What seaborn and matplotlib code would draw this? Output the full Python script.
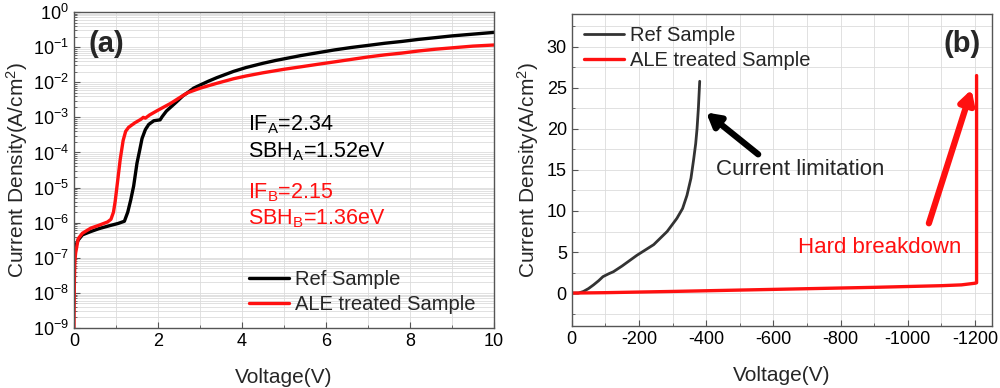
import numpy as np
import pandas as pd
import seaborn as sns
import matplotlib
matplotlib.use("Agg")
import matplotlib.pyplot as plt
from matplotlib.ticker import LogLocator, MultipleLocator, NullFormatter

# (a) forward J-V, log scale
ref_v = [0, 0.01, 0.03, 0.06, 0.1, 0.2, 0.4, 0.6, 0.86, 1.05, 1.2, 1.28, 1.35, 1.42, 1.5,
         1.56, 1.62, 1.7, 1.78, 1.9, 2.05, 2.1, 2.2, 2.45, 2.6, 2.7, 2.85, 3.0, 3.2, 3.4,
         3.6, 3.8, 4.1, 4.5, 4.8, 5.4, 5.8, 6.2, 6.6, 7.0, 7.4, 7.8, 8.2, 8.6, 9.0, 9.3,
         9.6, 10]
ref_j = [3e-8, 1e-7, 1.8e-7, 2.5e-7, 3.2e-7, 4.5e-7, 5.6e-7, 6.8e-7, 8.3e-7, 9.5e-7,
         1.1e-6, 2e-6, 4.4e-6, 1.1e-5, 5e-5, 1.1e-4, 2.5e-4, 4.5e-4, 6.3e-4, 8e-4,
         8.5e-4, 1.05e-3, 1.51e-3, 2.82e-3, 4.17e-3, 5.0e-3, 6.8e-3, 8.3e-3, 1.07e-2, 1.35e-2,
         1.66e-2, 2.04e-2, 2.63e-2, 3.47e-2, 4.17e-2, 5.75e-2, 6.92e-2, 8.32e-2, 9.77e-2, 0.112,
         0.129, 0.145, 0.166, 0.186, 0.209, 0.224, 0.240, 0.263]
ale_v = [0, 0.005, 0.01, 0.02, 0.04, 0.07, 0.1, 0.2, 0.4, 0.6, 0.8, 0.88, 0.94, 0.98, 1.03,
         1.1, 1.17, 1.23, 1.3, 1.45, 1.6, 1.65, 1.7, 1.8, 2.0, 2.3, 2.5, 2.7, 3.0, 3.4, 3.8,
         4.1, 4.5, 5.0, 5.4, 5.8, 6.2, 6.6, 7.0, 7.4, 7.8, 8.2, 8.6, 9.0, 9.5, 10]
ale_j = [1e-9, 6.3e-9, 2.5e-8, 7.9e-8, 1.4e-7, 2.2e-7, 3.5e-7, 5e-7, 7e-7, 8.5e-7, 1.05e-6,
         1.25e-6, 2e-6, 4e-6, 1.25e-5, 6.3e-5, 2.2e-4, 4e-4, 5.2e-4, 7e-4, 8.9e-4, 1e-3,
         9.5e-4, 1.17e-3, 1.6e-3, 2.5e-3, 3.55e-3, 5.0e-3, 6.76e-3, 9.33e-3, 1.26e-2,
         1.51e-2, 1.86e-2, 2.34e-2, 2.75e-2, 3.24e-2, 3.8e-2, 4.47e-2, 5.25e-2, 6.03e-2,
         6.76e-2, 7.76e-2, 8.71e-2, 9.55e-2, 0.107, 0.115]

# (b) reverse J-V, linear scale
ref_rv = [0, -20, -35, -50, -65, -80, -93, -110, -124, -150, -194, -244, -284, -313, -330,
          -343, -355, -363, -369, -373, -377, -381]
ref_rj = [0, 0.0, 0.2, 0.55, 1.0, 1.5, 2.0, 2.35, 2.6, 3.3, 4.6, 5.9, 7.5, 9.1, 10.3,
          11.9, 14.0, 16.3, 18.2, 20.0, 22.5, 25.8]
ale_rv = [0, -100, -300, -600, -900, -1100, -1160, -1200, -1205, -1205]
ale_rj = [0, 0.05, 0.2, 0.45, 0.7, 0.9, 1.0, 1.2, 1.25, 26.5]

sns.set_style("ticks")
plt.rcParams['font.family'] = ['Liberation Sans', 'DejaVu Sans']
plt.rcParams['mathtext.fontset'] = 'custom'
plt.rcParams['mathtext.rm'] = 'Liberation Sans'
plt.rcParams['mathtext.it'] = 'Liberation Sans:italic'
plt.rcParams['mathtext.bf'] = 'Liberation Sans:bold'
plt.rcParams['axes.unicode_minus'] = False

fig = plt.figure(figsize=(10, 3.88), dpi=100)
ax1 = fig.add_axes([0.074, 0.1546, 0.42, 0.8144])
ax2 = fig.add_axes([0.5717, 0.16, 0.42, 0.804])

gridc = "#dcdcdc"
spc = "#555555"
red = "#ff1010"

# ---- panel (a)
sns.lineplot(x=ref_v, y=ref_j, ax=ax1, color="black", lw=2.4, label="Ref Sample",
             estimator=None, sort=False)
sns.lineplot(x=ale_v, y=ale_j, ax=ax1, color=red, lw=2.4, label="ALE treated Sample",
             estimator=None, sort=False)
ax1.set_yscale("log")
ax1.set_ylim(1e-9, 1)
ax1.set_xlim(0, 10)
ax1.yaxis.set_major_locator(LogLocator(base=10, numticks=20))
ax1.yaxis.set_minor_locator(LogLocator(base=10, subs=np.arange(2, 10), numticks=20))
ax1.yaxis.set_minor_formatter(NullFormatter())
ax1.xaxis.set_major_locator(MultipleLocator(2))
ax1.xaxis.set_minor_locator(MultipleLocator(1))
ax1.grid(True, which="both", color=gridc, lw=0.6)
ax1.set_xlabel("Voltage(V)", fontsize=15, labelpad=13)
ax1.set_ylabel("Current Density(A/cm$^2$)", fontsize=15, labelpad=2)
ax1.text(0.035, 0.90, "(a)", transform=ax1.transAxes, fontsize=21, fontweight="bold",
         va="center", ha="left")
ax1.text(0.414, 0.642, "IF$_\\mathregular{A}$=2.34", transform=ax1.transAxes, fontsize=15.5,
         va="center", color="black")
ax1.text(0.414, 0.558, "SBH$_\\mathregular{A}$=1.52eV", transform=ax1.transAxes, fontsize=15.5,
         va="center", color="black")
ax1.text(0.414, 0.428, "IF$_\\mathregular{B}$=2.15", transform=ax1.transAxes, fontsize=15.5,
         va="center", color=red)
ax1.text(0.414, 0.345, "SBH$_\\mathregular{B}$=1.36eV", transform=ax1.transAxes, fontsize=15.5,
         va="center", color=red)
ax1.legend(loc="lower right", bbox_to_anchor=(0.99, 0.0), frameon=False, fontsize=14.5,
           handlelength=2.0, handletextpad=0.3, labelspacing=0.3, borderaxespad=0.3)

# ---- panel (b)
sns.lineplot(x=ref_rv, y=ref_rj, ax=ax2, color="#333333", lw=2.0, label="Ref Sample",
             estimator=None, sort=False)
sns.lineplot(x=ale_rv, y=ale_rj, ax=ax2, color=red, lw=2.4, label="ALE treated Sample",
             estimator=None, sort=False)
ax2.set_xlim(0, -1250)
ax2.set_ylim(-4, 34)
ax2.xaxis.set_major_locator(MultipleLocator(200))
ax2.xaxis.set_minor_locator(MultipleLocator(100))
ax2.yaxis.set_major_locator(MultipleLocator(5))
ax2.yaxis.set_minor_locator(MultipleLocator(2.5))
ax2.grid(True, which="both", color=gridc, lw=0.6)
ax2.set_xlabel("Voltage(V)", fontsize=15, labelpad=13)
ax2.set_ylabel("Current Density(A/cm$^2$)", fontsize=15, labelpad=4)
ax2.text(0.975, 0.905, "(b)", transform=ax2.transAxes, fontsize=21, fontweight="bold",
         va="center", ha="right")
ax2.annotate("", xy=(-400, 22.0), xytext=(-555, 16.9),
             arrowprops=dict(arrowstyle="-|>,head_length=0.8,head_width=0.45", lw=4.5,
                             color="black", shrinkA=0, shrinkB=0))
ax2.annotate("", xy=(-1190, 24.8), xytext=(-1063, 8.5),
             arrowprops=dict(arrowstyle="-|>,head_length=0.8,head_width=0.45", lw=4.5,
                             color=red, shrinkA=0, shrinkB=0))
ax2.text(-430, 15.0, "Current limitation", fontsize=16, va="center", ha="left")
ax2.text(-675, 5.5, "Hard breakdown", fontsize=16, va="center", ha="left", color=red)
ax2.legend(loc="upper left", frameon=False, fontsize=14.5, handlelength=2.0,
           handletextpad=0.3, labelspacing=0.3, borderaxespad=0.2)

for ax in (ax1, ax2):
    for s in ax.spines.values():
        s.set_color(spc)
        s.set_linewidth(1.0)
    ax.tick_params(which="both", direction="in", colors=spc, labelcolor="black",
                   labelsize=13)
    ax.tick_params(which="major", length=4)
    ax.tick_params(which="minor", length=2)

fig.savefig("out.png", dpi=100)
